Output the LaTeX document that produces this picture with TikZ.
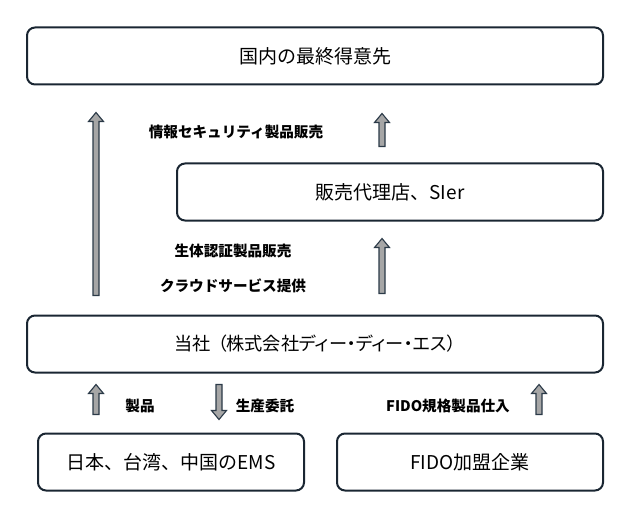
\documentclass[tikz,border=0pt]{standalone}
\usepackage{fontspec}
\setmainfont{Noto Sans CJK JP}
\newfontfamily\paltfont[RawFeature=+palt]{Noto Sans CJK JP}
\usepackage{tikz}
\usetikzlibrary{positioning,calc}
\usepackage{xcolor}
\definecolor{boxedge}{HTML}{1A2632}
\definecolor{arrfill}{HTML}{A6A6A6}
\definecolor{arredge}{HTML}{2B3A48}

% block arrow from tail #1 to tip #2
\newcommand{\blkarrow}[2]{%
  \coordinate (blkn) at ($(#2)!9pt!(#1)$);
  \draw[blkarr] ($(#1)!3pt!90:(#2)$) -- ($(blkn)!3pt!90:(#2)$) -- ($(blkn)!7.5pt!90:(#2)$)
    -- (#2) -- ($(blkn)!7.5pt!-90:(#2)$) -- ($(blkn)!3pt!-90:(#2)$) -- ($(#1)!3pt!-90:(#2)$) -- cycle;}

\begin{document}
\begin{tikzpicture}[
    x=1pt, y=1pt,
    box/.style={draw=boxedge, line width=2pt, rounded corners=8pt, align=center, minimum height=57pt, font=\fontsize{19}{22}\selectfont, inner sep=0pt},
    lbl/.style={font=\fontsize{14.6}{17}\selectfont\bfseries, inner sep=0pt},
    blkarr/.style={draw=arredge, fill=arrfill, line width=1.1pt, line join=miter}
]
\useasboundingbox (0,0) rectangle (636,512);

\node[box, minimum width=576pt] at (315,456) (toku) {国内の最終得意先};
\node[box, minimum width=426pt, below left=77pt and 0pt of toku.south east] (dairi) {販売代理店、SIer};
\node[box, minimum width=576pt, below=229pt of toku, font=\fontsize{18.2}{22}\selectfont] (tosha) {\paltfont 当社\hspace{7pt}（株式会社ディー・ディー・エス）};
\node[box, minimum width=266pt, below right=59pt and 11pt of tosha.south west] (ems) {日本、台湾、中国のEMS};
\node[box, minimum width=266pt, below left=59pt and 0pt of tosha.south east] (fido) {FIDO加盟企業};

% arrow ends
\coordinate (l0) at ($(tosha.north west)+(70,19)$);
\coordinate (l1) at ($(l0 |- toku.south)+(0,-27)$);
\coordinate (r0) at ($(dairi.north west)+(206,16)$);
\coordinate (r1) at ($(r0 |- toku.south)+(0,-28)$);
\coordinate (m0) at ($(r0 |- tosha.north)+(0,21)$);
\coordinate (m1) at ($(r0 |- dairi.south)+(0,-17)$);
\coordinate (e0) at ($(ems.north west)+(59,18)$);
\coordinate (e1) at ($(e0 |- tosha.south)+(0,-11)$);
\coordinate (dx) at ($(ems.north west)+(182,0)$);
\coordinate (d0) at ($(dx |- tosha.south)+(0,-11)$);
\coordinate (d1) at ($(dx)+(0,13)$);
\coordinate (f0) at ($(fido.north west)+(203,18)$);
\coordinate (f1) at ($(f0 |- tosha.south)+(0,-11)$);

\blkarrow{l0}{l1}
\blkarrow{r0}{r1}
\blkarrow{m0}{m1}
\blkarrow{e0}{e1}
\blkarrow{d0}{d1}
\blkarrow{f0}{f1}

% labels
\node[lbl] at ($(toku.south west)+(210,-46)$) (jouhou) {情報セキュリティ製品販売};
\node[lbl] at ($(dairi.south west)+(57,-29)$) (seitai) {生体認証製品販売};
\node[lbl] at ($(tosha.north west)+(207,29)$) (cloud) {クラウドサービス提供};
\node[lbl] at ($(ems.north west)+(103,27)$) (seihin) {製品};
\node[lbl] at ($(ems.north west)+(228,27)$) (itaku) {生産委託};
\node[lbl] at ($(fido.north west)+(112,27)$) (shiire) {FIDO規格製品仕入};
\end{tikzpicture}
\end{document}
